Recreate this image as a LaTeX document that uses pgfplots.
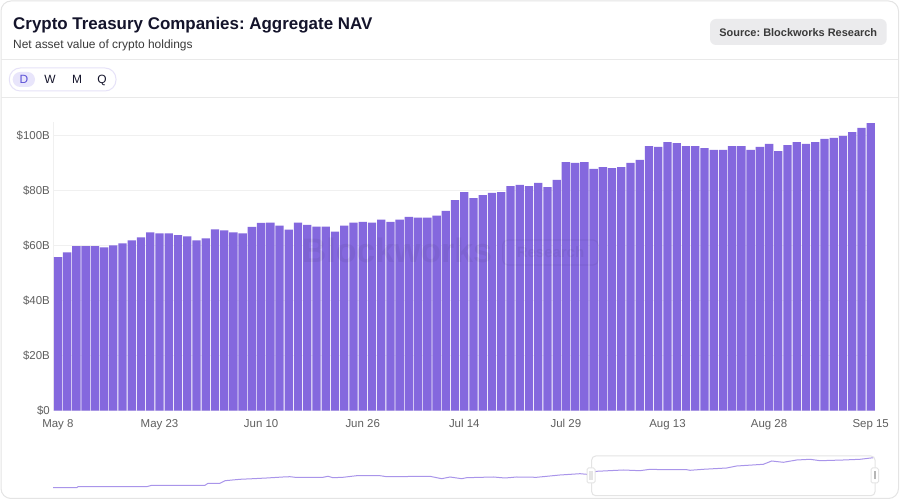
\documentclass[border=0pt]{standalone}
\usepackage{pgfplots}
\pgfplotsset{compat=1.18}
\usepackage{fontspec}
\setmainfont{Liberation Sans}
\frenchspacing
\definecolor{barc}{HTML}{8468DE}
\definecolor{gridc}{HTML}{F0F0F0}
\definecolor{labc}{HTML}{5F5F5F}
\definecolor{titc}{HTML}{14142B}
\definecolor{subc}{HTML}{3A3A3A}
\definecolor{cardc}{HTML}{E4E4E4}
\definecolor{sepc}{HTML}{E9E9E9}
\definecolor{lavb}{HTML}{E6E2F8}
\definecolor{lavf}{HTML}{E8E5FB}
\definecolor{dcol}{HTML}{5A50D6}
\definecolor{srcf}{HTML}{EBEBED}
\definecolor{minic}{HTML}{A995EA}
\begin{document}
\begin{tikzpicture}[x=1bp,y=1bp]
\path[use as bounding box] (0,0) rectangle (900,500);
\draw[rounded corners=10bp, draw=cardc, fill=white, line width=1bp] (1,1.5) rectangle (898.5,499);
% header separators
\draw[sepc, line width=1bp] (1.5,440) -- (898,440);
\draw[sepc, line width=1bp] (1.5,402) -- (898,402);
% title
\node[anchor=base west, inner sep=0, text=titc, font=\fontsize{17}{20}\selectfont\bfseries] at (13,470) {Crypto Treasury Companies: Aggregate NAV};
\node[anchor=base west, inner sep=0, text=subc, font=\fontsize{12}{14}\selectfont] at (13,451) {Net asset value of crypto holdings};
% source badge
\fill[srcf, rounded corners=6bp] (710,455) rectangle (886.7,481);
\node[anchor=base, inner sep=0, text=subc, font=\fontsize{11}{13}\selectfont\bfseries] at (798.3,463.6) {Source: Blockworks Research};
% button group
\draw[lavb, line width=1bp, rounded corners=11bp] (9.3,409) rectangle (116,432);
\fill[lavf, rounded corners=7.5bp] (12.7,413) rectangle (35,428);
\node[anchor=base, inner sep=0, text=dcol, font=\fontsize{12}{14}\selectfont] at (24,416) {D};
\node[anchor=base, inner sep=0, text=titc, font=\fontsize{12}{14}\selectfont] at (50,416) {W};
\node[anchor=base, inner sep=0, text=titc, font=\fontsize{12}{14}\selectfont] at (77,416) {M};
\node[anchor=base, inner sep=0, text=titc, font=\fontsize{12}{14}\selectfont] at (102,416) {Q};
% main chart
\begin{axis}[
  at={(53.3bp,89.3bp)}, anchor=south west,
  scale only axis, width=822bp, height=288.75bp,
  xmin=-0.5, xmax=88.5, ymin=0, ymax=105,
  axis lines*=left,
  x axis line style={draw=none},
  y axis line style={draw=gridc, line width=1.2bp},
  ymajorgrids, grid style={draw=gridc, line width=1.5bp},
  major tick length=0pt,
  ytick={0,20,40,60,80,100},
  yticklabels={\$0,\$20B,\$40B,\$60B,\$80B,\$100B},
  xtick={0,11,22,33,44,55,66,77,88},
  xticklabels={May 8,May 23,Jun 10,Jun 26,Jul 14,Jul 29,Aug 13,Aug 28,Sep 15},
  tick label style={font=\fontsize{11.5}{13}\selectfont, text=labc},
  xticklabel style={yshift=-5bp},
  /pgf/number format/assume math mode=true,
  clip=false,
]
\addplot[ybar, bar width=0.9, bar shift=0pt, fill=barc, draw=none] coordinates {
(0,55.8) (1,57.6) (2,59.8) (3,59.8) (4,59.8) (5,59.4) (6,60.1) (7,60.8) (8,61.9) (9,63.0)
(10,64.8) (11,64.5) (12,64.5) (13,63.8) (14,63.4) (15,61.9) (16,62.7) (17,65.9) (18,65.6) (19,64.8)
(20,64.5) (21,66.8) (22,68.3) (23,68.4) (24,67.3) (25,65.8) (26,68.4) (27,67.6) (28,66.9) (29,66.9)
(30,65.1) (31,67.3) (32,68.4) (33,68.7) (34,68.4) (35,69.5) (36,68.7) (37,69.5) (38,70.5) (39,70.2)
(40,70.2) (41,70.9) (42,72.7) (43,76.6) (44,79.5) (45,77.3) (46,78.4) (47,79.2) (48,79.5) (49,81.7)
(50,82.1) (51,81.7) (52,82.8) (53,81.3) (54,83.9) (55,90.4) (56,90.1) (57,90.4) (58,87.9) (59,88.6)
(60,88.2) (61,88.6) (62,90.1) (63,91.2) (64,96.2) (65,95.9) (66,97.7) (67,97.3) (68,96.2) (69,96.2)
(70,95.5) (71,94.8) (72,94.8) (73,96.2) (74,96.2) (75,94.8) (76,95.9) (77,97.0) (78,94.4) (79,96.6)
(80,97.7) (81,97.0) (82,97.7) (83,98.8) (84,99.2) (85,99.9) (86,101.3) (87,102.8) (88,104.6)
};
\end{axis}
% watermark
\node[anchor=base west, inner sep=0, text=black, opacity=0.05, font=\fontsize{34}{36}\selectfont\bfseries] at (301.7,237) {Blockworks};
\draw[black, opacity=0.05, line width=1.2bp, rounded corners=5bp] (502.7,235) rectangle (598.3,260);
\node[inner sep=0, text=black, opacity=0.05, font=\fontsize{15}{17}\selectfont\bfseries] at (550.5,247.5) {Research};
% mini navigator
\begin{axis}[
  at={(53bp,0bp)}, anchor=south west,
  scale only axis, width=822bp, height=50bp,
  xmin=53, xmax=875, ymin=0, ymax=50,
  hide axis, clip=false,
]
\addplot[minic, line width=1bp, mark=none] coordinates {
(53,12.3) (76.7,12.3) (78,13.3) (146.7,13.3) (151.7,14.7) (205,14.7) (208,16.7) (220,16.7)
(225,19.3) (240,20.7) (253,21.3) (266.7,22) (283,23) (290,23.3) (295,22.7) (323,22.7)
(328,23.7) (333,22.3) (343,22.7) (356.7,24.3) (380,24.3) (386.7,23.3) (430,23.7) (436.7,22.3)
(441.7,21.3) (446.7,22.3) (450,23) (461.7,21.3) (466.7,22.3) (493.3,23) (505,22) (516.7,23)
(536.7,22.7) (560,25) (580,26.3) (586.7,25.7) (596.7,28.7) (623.3,30) (640,29.3) (650,30.7)
(663.3,30.3) (686.7,30.3) (690,29.7) (703.3,30.7) (726.7,32) (736.7,34) (763.3,35.7) (771.7,39)
(783.3,37.7) (796.7,40) (810,40.7) (820,39.3) (843.3,40) (860,40.7) (873.3,42.3)
};
\end{axis}
% selection window
\draw[cardc, line width=1bp, rounded corners=4bp] (591.7,4.3) rectangle (875,44);
\filldraw[fill=white, draw=cardc, line width=1bp, rounded corners=1.5bp] (587,17) rectangle (595,32);
\fill[cardc] (589.3,20) rectangle (592.7,29);
\filldraw[fill=white, draw=cardc, line width=1bp, rounded corners=1.5bp] (871,17) rectangle (878.5,32);
\draw[cardc!80!black, line width=0.5bp] (874,20.5) -- (874,28.5);
\draw[cardc!80!black, line width=0.5bp] (875.5,20.5) -- (875.5,28.5);
\end{tikzpicture}
\end{document}
